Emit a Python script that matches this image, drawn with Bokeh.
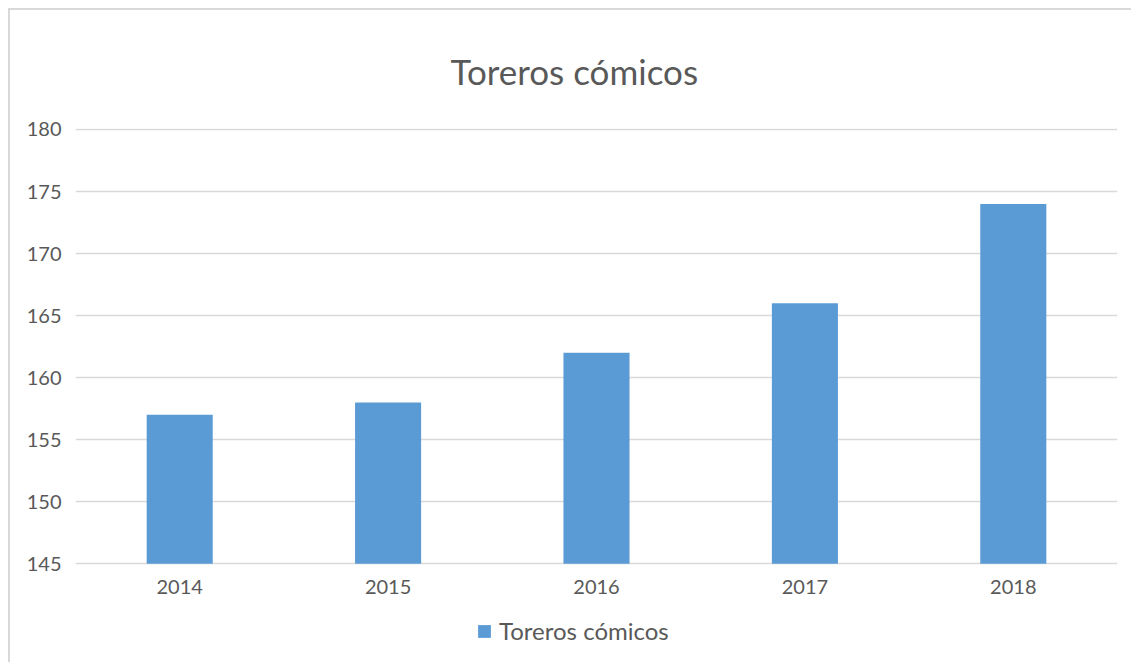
from bokeh.plotting import figure
from bokeh.layouts import column
from bokeh.models import Range1d, FactorRange, FixedTicker, Legend, LegendItem, ColumnDataSource
from bokeh.embed import file_html
from bokeh.resources import INLINE

years = ["2014", "2015", "2016", "2017", "2018"]
values = [157, 158, 162, 166, 174]
series_name = "Toreros cómicos"
title_text = "Toreros cómicos"
y_ticks = [145, 150, 155, 160, 165, 170, 175, 180]
y_base = 145

FONT = "Lato"
TXT = "#595959"
GRID = "#d9d9d9"
BAR = "#5b9bd5"

src = ColumnDataSource(data=dict(x=years, top=values))

# frame extends below the value axis so the legend can sit inside it
p = figure(width=1123, height=654, output_backend="svg", toolbar_location=None,
           x_range=FactorRange(*years, range_padding=0),
           y_range=Range1d(136.874, 180.0805),
           min_border_left=65, min_border_right=16, min_border_top=117, min_border_bottom=0)

p.styles = {"border-left": f"2px solid {GRID}", "border-top": f"2px solid {GRID}"}

p.title.text = title_text
p.title.text_font = FONT
p.title.text_font_size = "35px"
p.title.text_font_style = "normal"
p.title.text_color = TXT
p.title.align = "left"
p.title.offset = 375
p.title.standoff = 74

r = p.vbar(x="x", top="top", bottom=y_base, width=0.317, source=src, color=BAR, line_color=None)

p.outline_line_color = None
p.background_fill_color = "white"
p.border_fill_color = "white"

p.xgrid.grid_line_color = None
p.ygrid.grid_line_color = GRID
p.ygrid.grid_line_width = 1.5
p.yaxis.ticker = FixedTicker(ticks=y_ticks)
p.xaxis.fixed_location = y_base

for ax in (p.xaxis[0], p.yaxis[0]):
    ax.axis_line_color = None
    ax.major_tick_line_color = None
    ax.minor_tick_line_color = None
    ax.major_label_text_font = FONT
    ax.major_label_text_font_size = "20px"
    ax.major_label_text_color = TXT
p.yaxis.major_label_standoff = 8
p.xaxis.major_label_standoff = 10

legend = Legend(items=[LegendItem(label=series_name, renderers=[r])],
                location=(401, 19), orientation="horizontal",
                border_line_color=None, background_fill_alpha=0,
                label_text_font=FONT, label_text_font_size="24px", label_text_color=TXT,
                glyph_width=16, glyph_height=16, label_standoff=7,
                padding=0, margin=0)
p.add_layout(legend, "center")

layout = column(p, styles={"padding-left": "8px", "padding-top": "8px"})

open("out.html", "w").write(file_html(layout, INLINE))
